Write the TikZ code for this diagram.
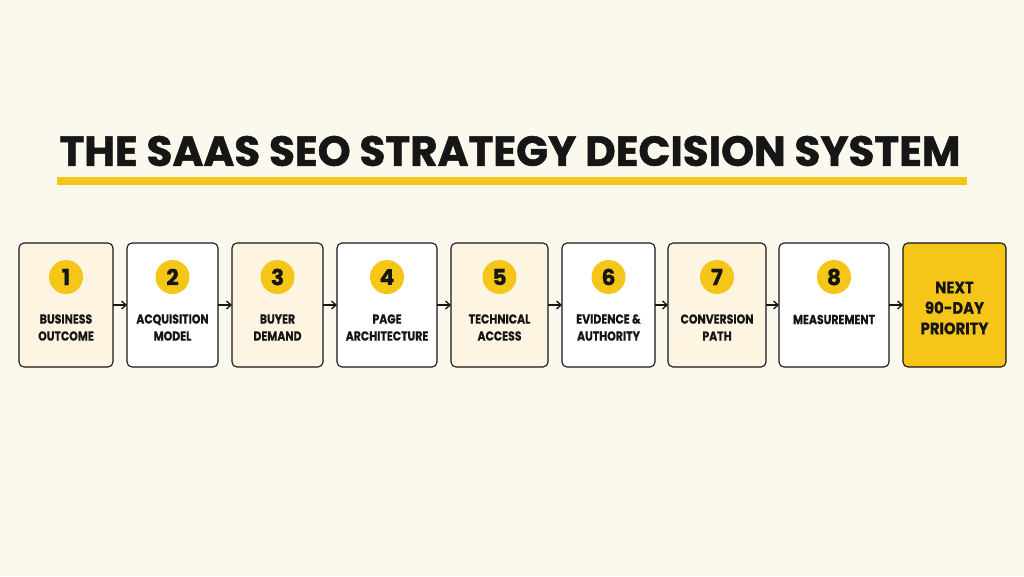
\documentclass[tikz,border=0pt]{standalone}
\usepackage{fontspec}
\setmainfont{Poppins}
\usetikzlibrary{arrows.meta}
\definecolor{bg}{HTML}{FBF8EE}
\definecolor{cream}{HTML}{FDF5E2}
\definecolor{gold}{HTML}{F5C518}
\definecolor{ink}{HTML}{161616}
\tikzset{
  stepbox/.style={draw=ink, line width=1.1pt, rounded corners=5pt, anchor=north west, inner sep=0pt},
  num/.style={circle, fill=gold, minimum size=34pt, inner sep=0pt, font=\bfseries\fontsize{22}{22}\selectfont\addfontfeature{FakeBold=0.6}, text=ink},
  lbl/.style={align=center, font=\bfseries\fontsize{13}{17}\selectfont\addfontfeature{FakeStretch=0.84,FakeBold=0.4}, text=ink},
  conn/.style={draw=ink, line width=1.3pt, -{Straight Barb[length=4.5pt,width=8pt]}}
}
\begin{document}
\begin{tikzpicture}[x=1pt,y=-1pt]
\fill[bg] (0,0) rectangle (1024,576);
\useasboundingbox (0,0) rectangle (1024,576);
\node[font=\bfseries\fontsize{42}{44}\selectfont\addfontfeature{FakeBold=1.2}, text=ink, anchor=center] (title) at (510,151) {THE SAAS SEO STRATEGY DECISION SYSTEM};
\fill[gold] (57,177) rectangle (967,185);
% boxes: name, left, right, fill
\foreach \n/\l/\r/\f in {b1/19/113/cream, b2/127/218/white, b3/232/323/cream, b4/337/437/white, b5/451/548/cream, b6/562/655/white, b7/668/766/cream, b8/779/889/white, b9/903/1006/gold}{
  \path[stepbox, fill=\f] (\l,243) rectangle (\r,367);
  \coordinate (\n w) at (\l,305);
  \coordinate (\n e) at (\r,305);
}
\foreach \n/\x/\t in {1/66/1, 2/172.5/2, 3/277.5/3, 4/387/4, 5/499.5/5, 6/608.5/6, 7/717/7, 8/834/8}{
  \node[num] (c\n) at (\x,277) {\t};
}
\node[lbl] (t1) at (66,327.5) {BUSINESS\\OUTCOME};
\node[lbl] (t2) at (172.5,327.5) {ACQUISITION\\MODEL};
\node[lbl] (t3) at (277.5,327.5) {BUYER\\DEMAND};
\node[lbl] (t4) at (387,327.5) {PAGE\\ARCHITECTURE};
\node[lbl] (t5) at (499.5,327.5) {TECHNICAL\\ACCESS};
\node[lbl] (t6) at (608.5,327.5) {EVIDENCE \&\\AUTHORITY};
\node[lbl] (t7) at (717,327.5) {CONVERSION\\PATH};
\node[lbl] (t8) at (834,319.5) {MEASUREMENT};
\node[align=center, font=\bfseries\fontsize{16.5}{20.5}\selectfont\addfontfeature{FakeStretch=0.9,FakeBold=0.4}, text=ink] (t9) at (954.5,308) {NEXT\\90-DAY\\PRIORITY};
\draw[conn] (b1e) -- (b2w);
\draw[conn] (b2e) -- (b3w);
\draw[conn] (b3e) -- (b4w);
\draw[conn] (b4e) -- (b5w);
\draw[conn] (b5e) -- (b6w);
\draw[conn] (b6e) -- (b7w);
\draw[conn] (b7e) -- (b8w);
\draw[conn] (b8e) -- (b9w);
\end{tikzpicture}
\end{document}
